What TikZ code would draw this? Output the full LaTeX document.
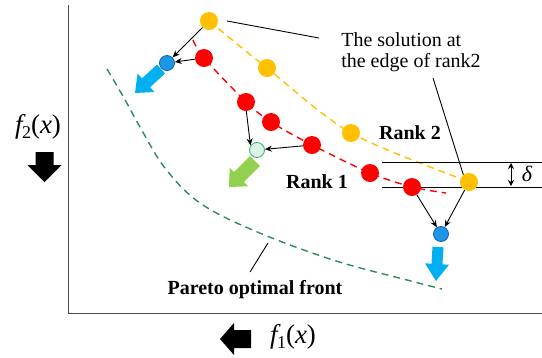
\documentclass[tikz,border=0pt]{standalone}
\usepackage{fontspec}
\setmainfont{Liberation Serif}
\newfontfamily\tnr{Liberation Serif}
\usetikzlibrary{calc,arrows.meta}
\definecolor{cyel}{HTML}{FFC000}
\definecolor{cred}{HTML}{FF0000}
\definecolor{cblue}{HTML}{1E96E6}
\definecolor{cblueb}{HTML}{1060B0}
\definecolor{carrb}{HTML}{00B0F0}
\definecolor{carrg}{HTML}{92D050}
\definecolor{cpar}{HTML}{2E8B57}
\definecolor{cgfill}{HTML}{DDF2E6}
\definecolor{cgdraw}{HTML}{3CB878}
\newcommand{\fatarr}[6]{%
  \coordinate (fB) at ($(#2)!#5!(#1)$);
  \fill[#6] ($(#1)!#3!90:(#2)$) -- ($(fB)!#3!90:(#2)$) -- ($(fB)!#4!90:(#2)$) -- (#2)
    -- ($(fB)!#4!-90:(#2)$) -- ($(fB)!#3!-90:(#2)$) -- ($(#1)!#3!-90:(#2)$) -- cycle;}
\tikzset{
  ydot/.style={circle,fill=cyel,inner sep=0,minimum size=18pt},
  rdot/.style={circle,fill=cred,inner sep=0,minimum size=18pt},
  bdot/.style={circle,fill=cblue,draw=cblueb,line width=0.8pt,inner sep=0,minimum size=15pt},
  gdot/.style={circle,fill=cgfill,draw=cgdraw,line width=0.9pt,inner sep=0,minimum size=15pt},
  conn/.style={draw=black,line width=0.9pt,-{Stealth[length=7pt,width=6pt]}},
  thin/.style={draw=black,line width=0.9pt},
  axis/.style={draw=black!70,line width=1pt},
  dashy/.style={line width=1.4pt,dash pattern=on 7pt off 5pt},
  lbl/.style={inner sep=0,font=\tnr\fontsize{20}{21}\selectfont},
  blbl/.style={inner sep=0,font=\tnr\fontsize{20}{22}\selectfont\bfseries},
  flbl/.style={inner sep=0,font=\tnr\fontsize{27}{29}\selectfont},
}
\begin{document}
\begin{tikzpicture}[x=1pt,y=-1pt]
\useasboundingbox (0,0) rectangle (542,357);
% axes
\coordinate (o) at (68,313);
\coordinate (ytop) at (68,5);
\coordinate (xend) at (542,313);
\draw[axis] (ytop) -- (o) -- (xend);
% dashed curves
\draw[dashy,cpar] plot[smooth,tension=0.6] coordinates {(107,69) (124,98) (140,127) (165,168) (200,203) (255,231) (333,260) (407,280) (442,289)};
\draw[dashy,cyel] plot[smooth,tension=0.5] coordinates {(209,21) (267,68) (351,133) (467,181)};
\draw[dashy,cred] plot[smooth,tension=0.5] coordinates {(193,40) (204,58) (246,102) (271,122) (312,145) (370,173) (412,187) (446,193)};
% delta lines
\coordinate (d1a) at (382,162); \coordinate (d1b) at (542,162);
\coordinate (d2a) at (382,187); \coordinate (d2b) at (542,187);
\draw[thin] (d1a) -- (d1b);
\draw[thin] (d2a) -- (d2b);
\coordinate (da) at (511,163); \coordinate (db) at (511,186);
\draw[line width=0.9pt,{Stealth[length=6pt,width=6pt]}-{Stealth[length=6pt,width=6pt]}] (da) -- (db);
\node[inner sep=0,font=\tnr\fontsize{22}{24}\selectfont\itshape] (delta) at (527,174) {δ};
% points
\node[ydot] (y1) at (209,21) {};
\node[ydot] (y2) at (267,68) {};
\node[ydot] (y3) at (351,133) {};
\node[ydot] (y4) at (469,182) {};
\node[rdot] (r1) at (204,58) {};
\node[rdot] (r2) at (246,102) {};
\node[rdot] (r3) at (271,122) {};
\node[rdot] (r4) at (312,145) {};
\node[rdot] (r5) at (370,173) {};
\node[rdot] (r6) at (412,187) {};
% fat arrows
\coordinate (ba1t) at (161,69); \coordinate (ba1p) at (135,93);
\fatarr{ba1t}{ba1p}{6pt}{12.5pt}{15pt}{carrb}
\coordinate (gat) at (255,161); \coordinate (gap) at (229,187);
\fatarr{gat}{gap}{7pt}{13pt}{14pt}{carrg}
\coordinate (ba2t) at (438,247); \coordinate (ba2p) at (436,281);
\fatarr{ba2t}{ba2p}{5.5pt}{12pt}{17pt}{carrb}
\coordinate (kdt) at (44.5,152); \coordinate (kdp) at (44.5,182);
\fatarr{kdt}{kdp}{9pt}{17pt}{17pt}{black}
\coordinate (klt) at (251,339); \coordinate (klp) at (220,339);
\fatarr{klt}{klp}{9pt}{16pt}{14pt}{black}
% offspring
\node[bdot] (b1) at (167,63) {};
\node[bdot] (b2) at (441,234) {};
\node[gdot] (g1) at (257,150) {};
% black arrows
\draw[conn] (y1) -- (b1);
\draw[conn] (r1) -- (b1);
\draw[conn] (r2.-88) -- (g1.145);
\draw[conn] (r4) -- (g1);
\draw[conn] (r6) -- (b2);
\draw[conn] (y4) -- (b2);
% annotations
\node[lbl,align=left] (ann) at (411,52) {The solution at\\the edge of rank2};
\coordinate (a1s) at (227,21); \coordinate (a1e) at (319,38);
\draw[thin] (a1s) -- (a1e);
\coordinate (a2s) at (433,78);
\draw[thin] (a2s) -- (y4.128);
\node[blbl] (rk2) at (410,133) {Rank 2};
\node[blbl] (rk1) at (317,182) {Rank 1};
\node[blbl] (par) at (255,290) {Pareto optimal front};
\coordinate (ps) at (268,243); \coordinate (pe) at (250,272);
\draw[thin] (ps) -- (pe);
\node[flbl] (f2) at (38,127) {{\itshape f}\kern-0.5pt{\fontsize{18}{18}\selectfont\raisebox{-5pt}{2}}({\itshape x})};
\node[flbl] (f1) at (293,337) {{\itshape f}\kern-0.5pt{\fontsize{18}{18}\selectfont\raisebox{-5pt}{1}}({\itshape x})};
\end{tikzpicture}
\end{document}
